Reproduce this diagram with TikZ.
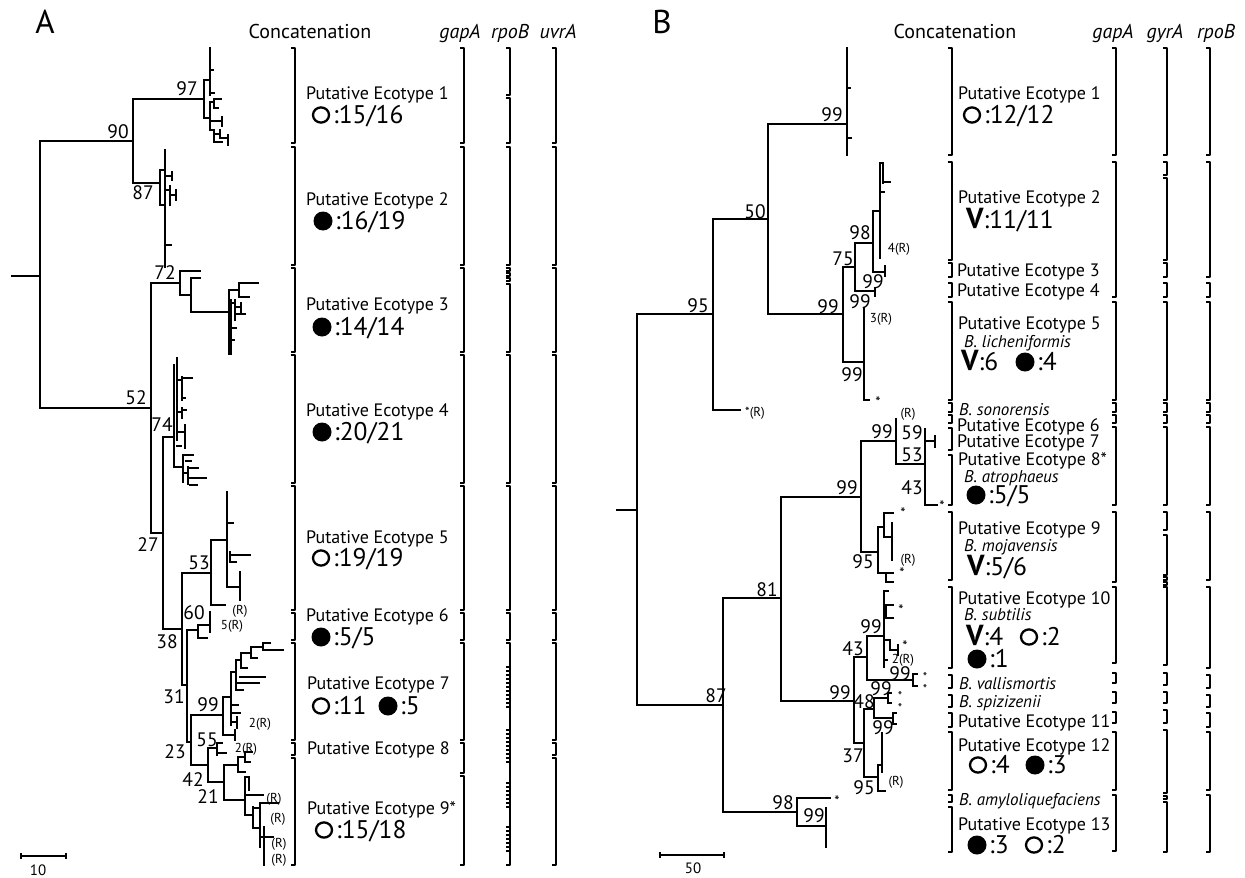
\documentclass[tikz,border=0pt]{standalone}
\usepackage{fontspec}
\setmainfont{PT Sans}
\newcommand\bkt[3]{\draw[bk] ({#1-4},#2)--(#1,#2)--(#1,#3)--({#1-4},#3);}
\newcommand\opc[2]{\draw[line width=2.3pt] (#1,#2) ellipse [x radius=8pt, y radius=7.6pt];}
\newcommand\fic[2]{\fill (#1,#2) circle [radius=9.5pt];}
\newcommand\bV{{\fontsize{29}{30}\selectfont\bfseries V}}
\begin{document}
\begin{tikzpicture}[x=1pt,y=-1pt,
 br/.style={line width=2pt,line cap=rect},
 brt/.style={line width=2.8pt,line cap=rect},
 bk/.style={line width=2.5pt,line join=round},
 notch/.style={line width=1.8pt},
 lab/.style={anchor=west,inner sep=0pt,font=\fontsize{18}{20}\selectfont,text height=12.5pt,text depth=0pt},
 spc/.style={anchor=west,inner sep=0pt,font=\fontsize{17}{19}\selectfont\itshape,text height=12pt,text depth=0pt},
 cnt/.style={anchor=west,inner sep=0pt,font=\fontsize{25.5}{28}\selectfont,text height=17pt,text depth=0pt},
 sup/.style={inner sep=0pt,font=\fontsize{19.5}{21}\selectfont,text height=13pt,text depth=0pt},
 sml/.style={inner sep=0pt,font=\fontsize{13}{14}\selectfont,text height=9pt,text depth=0pt},
 str/.style={inner sep=0pt,font=\fontsize{15}{9}\selectfont,text height=5pt,text depth=0pt},
 st2/.style={inner sep=0pt,font=\fontsize{12.5}{9}\selectfont,text height=4pt,text depth=0pt},
 hdr/.style={inner sep=0pt,font=\fontsize{20}{22}\selectfont,text height=14pt,text depth=0pt},
 hdi/.style={inner sep=0pt,font=\fontsize{20}{22}\selectfont\itshape,text height=14pt,text depth=0pt},
 pan/.style={inner sep=0pt,font=\fontsize{33}{36}\selectfont,text height=22pt,text depth=0pt}]
\useasboundingbox[fill=white] (0,0) rectangle (1245,878);

%================ PANEL A =================
\node[pan] (pA) at (45,23) {A};
\node[hdr] (hA) at (310,31) {Concatenation};
\node[hdi] (gA1) at (460,31) {gapA};
\node[hdi] (gA2) at (510,31) {rpoB};
\node[hdi] (gA3) at (558,31) {uvrA};

% tree A backbone
\draw[br] (12,276)--(40,276) (40,141)--(40,408)
 (40,141)--(133,141) (133,99)--(133,183) (133,99)--(204,99) (133,183)--(160,183)
 (40,408)--(151,408) (151,283)--(151,533) (151,283)--(180,283)
 (180,271)--(180,295) (180,271)--(200,271) (180,295)--(191,295)
 (191,278)--(191,312) (191,278)--(200,278) (191,312)--(229,312)
 (151,533)--(163,533) (163,437)--(163,629) (163,437)--(174,437)
 (163,629)--(182,629) (182,573)--(182,685) (182,573)--(211,573)
 (211,540)--(211,605) (211,605)--(225,605) (211,540)--(227,540)
 (182,685)--(187,685) (187,630)--(187,742) (187,630)--(198,630)
 (187,742)--(191,742) (191,715)--(191,765) (191,715)--(223,715)
 (223,697)--(223,735)
 (191,765)--(208,765) (208,748)--(208,782) (208,748)--(217,748)
 (208,782)--(224,782) (224,765)--(224,800);
% cluster A1
\draw[br] (204,80)--(204,118) (204,80)--(210,80) (210,93)--(214,93) (210,70)--(213,70)
 (204,118)--(210,118) (210,102)--(210,130) (210,102)--(214,102) (214,99)--(214,108)
 (214,99)--(221,99) (214,108)--(218,108) (210,121)--(222,121) (222,117)--(222,126)
 (210,130)--(214,130) (214,130)--(214,142) (214,134)--(220,134) (220,130)--(220,138)
 (214,142)--(222,142) (222,138)--(228,138) (228,135)--(228,145);
\draw[brt] (210,48)--(210,95);
% cluster A2
\draw[br] (160,170)--(160,205) (160,170)--(165,170) (160,205)--(165,205)
 (166,176)--(172,176) (172,172)--(172,180) (166,190)--(170,190) (170,186)--(170,205)
 (170,195)--(176,195) (176,190)--(176,200) (166,245)--(171,245);
\draw[brt] (165,150)--(165,267);
% cluster A3
\draw[br] (229,290)--(229,354) (229,290)--(239,290) (239,283)--(239,297) (239,283)--(258,283)
 (239,297)--(249,297) (229,303)--(235,303) (235,300)--(235,320) (235,307)--(241,307)
 (241,303)--(241,314) (235,314)--(245,314) (229,328)--(236,328) (229,340)--(234,340);
\draw[brt] (231,300)--(231,354);
% cluster A4
\draw[br] (174,365)--(174,467) (174,467)--(183,467) (183,455)--(183,482) (183,455)--(193,455)
 (186,461)--(191,461) (183,473)--(188,473) (188,467)--(188,484) (188,468)--(198,468)
 (190,478)--(206,478) (190,485)--(197,485) (177,380)--(182,380) (182,377)--(182,400)
 (182,378)--(192,378) (182,398)--(185,398) (177,412)--(182,412) (182,408)--(182,418)
 (182,410)--(186,410) (177,432)--(184,432) (177,446)--(181,446);
\draw[brt] (177,358)--(177,440) (185,425)--(185,448);
% cluster A5
\draw[br] (227,492)--(227,587) (227,523)--(233,523) (230,552)--(230,562)
 (230,555)--(250,555) (230,562)--(236,562) (227,587)--(240,587);
\draw[brt] (240,572)--(240,600);
% cluster A6
\draw[br] (198,625)--(198,638) (198,625)--(210,625) (198,638)--(207,638);
\draw[brt] (210,612)--(210,632);
% cluster A7
\draw[br] (223,697)--(231,697) (231,672)--(231,725) (231,672)--(236,672) (236,660)--(236,690)
 (236,660)--(241,660) (241,653)--(241,668) (241,653)--(251,653) (251,647)--(251,658)
 (251,647)--(263,647) (263,643)--(263,650) (263,643)--(270,643) (263,650)--(283,650)
 (251,658)--(257,658) (241,668)--(247,668) (236,683)--(259,683) (240,677)--(265,677)
 (236,690)--(243,690) (231,705)--(238,705) (233,713)--(240,713) (231,722)--(237,722)
 (237,717)--(237,728) (223,735)--(235,735) (235,730)--(235,740);
% cluster A8
\draw[br] (217,743)--(217,755) (217,743)--(222,743) (217,753)--(226,753);
% cluster A9
\draw[br] (224,765)--(238,765) (238,757)--(238,772) (238,757)--(245,757) (245,752)--(245,762)
 (245,752)--(252,752) (245,762)--(250,762) (238,772)--(245,772)
 (224,800)--(245,800) (245,777)--(245,815) (245,777)--(249,777) (249,777)--(249,790)
 (245,795)--(263,795) (245,815)--(253,815) (253,807)--(253,828) (253,808)--(260,808)
 (260,803)--(260,847) (260,803)--(278,803) (262,837)--(273,837) (253,828)--(260,828);
\draw[brt] (264,827)--(264,865);

% support values A
\node[sup] (sa1) at (187,89) {97};
\node[sup] (sa2) at (118,132) {90};
\node[sup] (sa3) at (143,193) {87};
\node[sup] (sa4) at (165,273) {72};
\node[sup] (sa5) at (136,398) {52};
\node[sup] (sa6) at (162,425) {74};
\node[sup] (sa7) at (148,545) {27};
\node[sup] (sa8) at (199,563) {53};
\node[sup] (sa9) at (194,613) {60};
\node[sup] (sa10) at (167,642) {38};
\node[sup] (sa11) at (174,697) {31};
\node[sup] (sa12) at (208,705) {99};
\node[sup] (sa13) at (207,740) {55};
\node[sup] (sa14) at (175,752) {23};
\node[sup] (sa15) at (193,780) {42};
\node[sup] (sa16) at (208,797) {21};
\node[sml] (ra1) at (240,610) {(R)};
\node[sml] (ra2) at (232,625) {5(R)};
\node[sml] (ra3) at (260,723) {2(R)};
\node[sml] (ra4) at (246,748) {2(R)};
\node[sml] (ra5) at (274,798) {(R)};
\node[sml] (ra6) at (278,818) {(R)};
\node[sml] (ra7) at (279,843) {(R)};
\node[sml] (ra8) at (279,859) {(R)};

% scale bar A
\draw[br] (21,856)--(66,856) (21,854)--(21,858) (66,854)--(66,858);
\node[sml,font=\fontsize{15}{17}\selectfont,text height=10.5pt] (scA) at (38,870) {10};

% brackets A
\foreach \a/\b in {48/143,147/265,268/352,355/483,486/610,613/640,643/740,743/755,758/865}{\bkt{295}{\a}{\b}\bkt{556}{\a}{\b}}
\foreach \a/\b in {48/143,147/265,268/352,355/483,486/610,613/640,643/740,743/773,776/865}{\bkt{464}{\a}{\b}}
\foreach \a/\b in {48/95,98/143,147/265,268/271,273/276,278/281,284/352,355/483,486/610,613/640,643/865}{\bkt{510}{\a}{\b}}
\foreach \y in {667,671,...,709}{\draw[notch] (510,\y)--(506,\y);}
\foreach \y in {730,734,...,762}{\draw[notch] (510,\y)--(506,\y);}
\foreach \y in {783,787,...,807}{\draw[notch] (510,\y)--(506,\y);}
\foreach \y in {827,831,...,851}{\draw[notch] (510,\y)--(506,\y);}

% labels A
\node[lab] (le1) at (306,93) {Putative Ecotype 1};
\node[lab] (le2) at (306,199) {Putative Ecotype 2};
\node[lab] (le3) at (306,304) {Putative Ecotype 3};
\node[lab] (le4) at (306,410) {Putative Ecotype 4};
\node[lab] (le5) at (306,537) {Putative Ecotype 5};
\node[lab] (le6) at (306,615) {Putative Ecotype 6};
\node[lab] (le7) at (307,683) {Putative Ecotype 7};
\node[lab] (le8) at (307,748) {Putative Ecotype 8};
\node[lab] (le9) at (307,808) {Putative Ecotype 9*};
\opc{321}{115} \node[cnt] (ce1) at (333,115) {:15/16};
\fic{323}{221} \node[cnt] (ce2) at (335,221) {:16/19};
\fic{322}{327} \node[cnt] (ce3) at (334,327) {:14/14};
\fic{322}{432} \node[cnt] (ce4) at (334,432) {:20/21};
\opc{321}{558} \node[cnt] (ce5) at (333,558) {:19/19};
\fic{321}{637} \node[cnt] (ce6) at (333,637) {:5/5};
\opc{321}{706} \node[cnt] (ce7) at (333,706) {:11};
\fic{388}{706} \node[cnt] (ce7b) at (400,706) {:5};
\opc{324}{830} \node[cnt] (ce9) at (336,830) {:15/18};

%================ PANEL B =================
\node[pan] (pB) at (662,23) {B};
\node[hdr] (hB) at (955,31) {Concatenation};
\node[hdi] (gB1) at (1113,31) {gapA};
\node[hdi] (gB2) at (1165,31) {gyrA};
\node[hdi] (gB3) at (1216,31) {rpoB};

\draw[br] (617,510)--(637,510) (637,314)--(637,705) (637,314)--(713,314)
 (713,219)--(713,410) (713,410)--(740,410) (713,219)--(768,219)
 (768,124)--(768,314) (768,124)--(847,124) (768,314)--(843,314)
 (843,267)--(843,362) (843,267)--(855,267) (855,243)--(855,291) (855,243)--(873,243)
 (873,211)--(873,272) (873,211)--(880,211) (873,272)--(885,272) (885,266)--(885,276)
 (855,291)--(875,291) (875,288)--(875,296) (843,362)--(864,362) (864,400)--(869,400)
 (880,163)--(883,163) (883,163)--(883,183) (883,182)--(890,182) (880,192)--(884,192)
 (847,88)--(850,88) (847,138)--(851,138);
\draw[brt] (847,48)--(847,155) (880,163)--(880,258) (864,308)--(864,400);
\draw[br] (637,705)--(723,705) (723,598)--(723,812) (723,598)--(781,598)
 (781,497)--(781,701) (781,497)--(861,497) (861,441)--(861,552) (861,441)--(896,441)
 (896,419)--(896,464) (896,464)--(925,464) (925,441)--(935,441) (935,436)--(935,447)
 (925,505)--(937,505) (861,552)--(878,552) (878,527)--(878,573) (878,527)--(884,527)
 (884,513)--(884,537) (884,513)--(893,513) (884,537)--(890,537) (878,573)--(886,573)
 (886,573)--(886,582) (886,573)--(893,573) (886,582)--(893,582);
\draw[brt] (925,429)--(925,505) (892,523)--(892,560);
\draw[br] (781,701)--(854,701) (854,657)--(854,743) (854,657)--(867,657)
 (867,636)--(867,680) (867,636)--(884,636) (884,591)--(888,591) (886,605)--(886,618)
 (886,605)--(893,605) (886,618)--(893,618) (884,640)--(890,640) (890,640)--(890,650)
 (890,650)--(898,650) (898,645)--(898,655) (884,660)--(887,660)
 (867,680)--(913,680) (913,674)--(913,686) (913,674)--(917,674) (913,686)--(917,686);
\draw[brt] (884,591)--(884,667);
\draw[br] (854,743)--(864,743) (864,709)--(864,777) (864,709)--(874,709)
 (874,698)--(874,718) (874,698)--(888,698) (888,693)--(888,703) (888,693)--(891,693)
 (888,703)--(891,703) (874,718)--(893,718) (893,713)--(893,724) (893,713)--(896,713)
 (893,724)--(896,724) (864,777)--(878,777) (878,765)--(878,791) (878,765)--(882,765)
 (878,791)--(885,791);
\draw[brt] (882,733)--(882,772);
\draw[br] (723,812)--(797,812) (797,798)--(797,826) (797,798)--(830,798) (797,826)--(826,826);
\draw[brt] (826,808)--(826,847);

% support values B
\node[sup] (sb1) at (832,115) {99};
\node[sup] (sb2) at (755,212) {50};
\node[sup] (sb3) at (698,306) {95};
\node[sup] (sb4) at (860,233) {98};
\node[sup] (sb5) at (843,259) {75};
\node[sup] (sb6) at (873,282) {99};
\node[sup] (sb7) at (860,302) {99};
\node[sup] (sb8) at (828,307) {99};
\node[sup] (sb9) at (852,375) {99};
\node[sup] (sb10) at (882,432) {99};
\node[sup] (sb11) at (912,433) {59};
\node[sup] (sb12) at (912,455) {53};
\node[sup] (sb13) at (912,488) {43};
\node[sup] (sb14) at (847,488) {99};
\node[sup] (sb15) at (863,562) {95};
\node[sup] (sb16) at (767,590) {81};
\node[sup] (sb17) at (871,627) {99};
\node[sup] (sb18) at (853,649) {43};
\node[sup] (sb19) at (900,674) {99};
\node[sup] (sb20) at (840,693) {99};
\node[sup] (sb21) at (716,696) {87};
\node[sup] (sb22) at (881,689) {99};
\node[sup] (sb23) at (864,702) {48};
\node[sup] (sb24) at (883,728) {99};
\node[sup] (sb25) at (853,756) {37};
\node[sup] (sb26) at (864,788) {95};
\node[sup] (sb27) at (783,803) {98};
\node[sup] (sb28) at (814,816) {99};
\node[sml] (rb1) at (755,412) {*(R)};
\node[sml] (rb2) at (899,248) {4(R)};
\node[sml] (rb3) at (881,318) {3(R)};
\node[str] (rb4) at (878,405) {*};
\node[sml] (rb5) at (908,413) {(R)};
\node[str] (rb6) at (942,509) {*};
\node[str] (rb7) at (903,516) {*};
\node[sml] (rb8) at (908,559) {(R)};
\node[str] (rb9) at (902,576) {*};
\node[str] (rb10) at (901,613) {*};
\node[str] (rb11) at (905,649) {*};
\node[sml] (rb12) at (903,659) {2(R)};
\node[st2] (rb13) at (925,679) {*};
\node[st2] (rb14) at (925,691) {*};
\node[st2] (rb15) at (900,698) {*};
\node[st2] (rb16) at (900,710) {*};
\node[sml] (rb17) at (896,781) {(R)};
\node[str] (rb18) at (837,804) {*};

% scale bar B
\draw[br] (660,855)--(724,855) (660,853)--(660,857) (724,853)--(724,857);
\node[sml,font=\fontsize{15}{17}\selectfont,text height=10.5pt] (scB) at (693,868) {50};

% brackets B
\foreach \a/\b in {48/155,162/260,263/277,283/297,302/400,403/412,415/423,428/450,455/505,512/580,587/668,675/688,695/707,713/727,732/790,795/802,807/852}{\bkt{952}{\a}{\b}}
\foreach \a/\b in {48/155,162/297,302/400,403/412,415/423,427/505,512/582,587/663,673/683,692/703,712/723,732/790,795/851}{\bkt{1116}{\a}{\b}}
\foreach \a/\b in {48/155,162/175,178/260,263/277,283/297,302/400,403/412,415/423,427/505,512/530,535/575,577/580,582/585,587/665,673/685,692/703,710/723,730/793,796/799,802/852}{\bkt{1167}{\a}{\b}}
\foreach \a/\b in {48/155,162/277,283/297,302/400,403/412,415/423,427/505,512/580,587/668,675/688,695/707,713/727,732/790,795/852}{\bkt{1210}{\a}{\b}}

% labels B
\node[lab] (lb1) at (958,93) {Putative Ecotype 1};
\node[lab] (lb2) at (958,197) {Putative Ecotype 2};
\node[lab] (lb3) at (957,270) {Putative Ecotype 3};
\node[lab] (lb4) at (957,290) {Putative Ecotype 4};
\node[lab] (lb5) at (958,323) {Putative Ecotype 5};
\node[spc] (sp1) at (964,341) {B. licheniformis};
\node[spc] (sp2) at (959,409) {B. sonorensis};
\node[lab] (lb6) at (957,425) {Putative Ecotype 6};
\node[lab] (lb7) at (957,441) {Putative Ecotype 7};
\node[lab] (lb8) at (958,459) {Putative Ecotype 8*};
\node[spc] (sp3) at (964,476) {B. atrophaeus};
\node[lab] (lb9) at (958,528) {Putative Ecotype 9};
\node[spc] (sp4) at (964,545) {B. mojavensis};
\node[lab] (lb10) at (958,598) {Putative Ecotype 10};
\node[spc] (sp5) at (964,614) {B. subtilis};
\node[spc] (sp6) at (959,683) {B. vallismortis};
\node[spc] (sp7) at (959,701) {B. spizizenii};
\node[lab] (lb11) at (958,721) {Putative Ecotype 11};
\node[lab] (lb12) at (958,745) {Putative Ecotype 12};
\node[spc] (sp8) at (959,799) {B. amyloliquefaciens};
\node[lab] (lb13) at (958,824) {Putative Ecotype 13};

\opc{972}{115} \node[cnt] (cb1) at (984,115) {:12/12};
\node[cnt] (cb2) at (966,220) {\bV:11/11};
\node[cnt] (cb5) at (961,362) {\bV:6};
\fic{1025}{362} \node[cnt] (cb5b) at (1037,362) {:4};
\fic{976}{495} \node[cnt] (cb8) at (988,495) {:5/5};
\node[cnt] (cb9) at (967,567) {\bV:5/6};
\node[cnt] (cb10) at (966,637) {\bV:4};
\opc{1029}{637} \node[cnt] (cb10b) at (1041,637) {:2};
\fic{977}{659} \node[cnt] (cb10c) at (989,659) {:1};
\opc{978}{765} \node[cnt] (cb12) at (990,765) {:4};
\fic{1035}{765} \node[cnt] (cb12b) at (1047,765) {:3};
\fic{977}{845} \node[cnt] (cb13) at (989,845) {:3};
\opc{1034}{845} \node[cnt] (cb13b) at (1046,845) {:2};
\end{tikzpicture}
\end{document}
